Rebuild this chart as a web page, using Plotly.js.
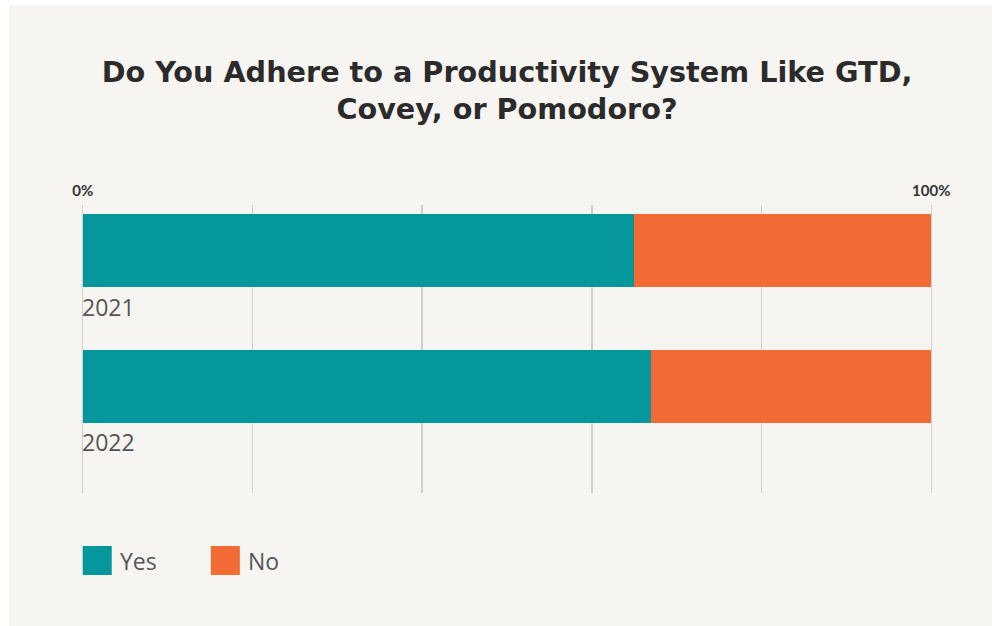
<!DOCTYPE html>
<html>
<head>
<meta charset="utf-8">
<script src="https://cdn.plot.ly/plotly-3.0.1.min.js"></script>
<style>
  html, body { margin: 0; padding: 0; background: #ffffff; width: 992px; height: 626px; overflow: hidden; }
  #chart { position: absolute; left: 9px; top: 5px; width: 983px; height: 621px; }
</style>
</head>
<body>
<div id="chart"></div>
<script>
// ---- data ----
const years = ['2021', '2022'];
const seriesNames = ['Yes', 'No'];
const yesValues = [65, 67];
const noValues = [35, 33];
const seriesColors = ['#05979b', '#f36b34'];
const tickValues = [0, 100];
const tickLabels = ['0%', '100%'];
const titleText = 'Do You Adhere to a Productivity System Like GTD,<br>Covey, or Pomodoro?';

const seriesValues = [yesValues, noValues];
const traces = seriesNames.map((name, i) => ({
  type: 'bar',
  orientation: 'h',
  name: name,
  y: years,
  x: seriesValues[i],
  marker: { color: seriesColors[i], line: { width: 0 } },
  width: 0.537,
  hoverinfo: 'x+name'
}));

const labelFont = { family: '"Open Sans", sans-serif', size: 23, color: '#555555' };

// year labels under bars (category index positions)
const annotations = years.map((yr, i) => ({
  x: 0, xref: 'x', y: i, yref: 'y',
  text: yr, showarrow: false,
  xanchor: 'left', yanchor: 'top', yshift: -38, xshift: -3,
  font: labelFont
}));

// custom legend (large squares)
const shapes = [];
const plotW = 851.4, plotH = 288;
const legendX = [0, 0.151];   // fraction of the 0-100 span
seriesNames.forEach((name, i) => {
  const x0 = (1.7 + legendX[i] * 848) / plotW;
  shapes.push({
    type: 'rect', xref: 'paper', yref: 'paper',
    x0: x0, x1: x0 + 29 / plotW,
    y0: -(546 - 493 + 29) / plotH, y1: -(546 - 493) / plotH,
    fillcolor: seriesColors[i], line: { width: 0 }
  });
  annotations.push({
    xref: 'paper', yref: 'paper',
    x: x0 + 35 / plotW, y: -(546 - 493 + 14.5) / plotH,
    text: name, showarrow: false,
    xanchor: 'left', yanchor: 'middle',
    font: labelFont
  });
});

const layout = {
  width: 983, height: 621,
  paper_bgcolor: '#f6f5f1',
  plot_bgcolor: 'rgba(0,0,0,0)',
  margin: { l: 72.3, r: 59.3, t: 200, b: 133 },
  barmode: 'stack',
  showlegend: false,
  title: {
    text: titleText,
    x: 0.5, xref: 'paper', xanchor: 'center',
    y: 0.876, yref: 'container', yanchor: 'top',
    font: { family: '"DejaVu Sans", sans-serif', size: 28.7, color: '#2b2b2b', weight: 700 }
  },
  xaxis: {
    side: 'top',
    range: [-0.2, 100.2],
    tickvals: tickValues,
    ticktext: tickLabels,
    ticks: '',
    ticklabelstandoff: 5,
    showline: false,
    zeroline: false,
    showgrid: true,
    gridcolor: '#cfcfcd',
    gridwidth: 1.5,
    tickfont: { family: 'Lato, sans-serif', size: 15, color: '#333333', weight: 700 },
    minor: { dtick: 20, tick0: 0, showgrid: true, gridcolor: '#cfcfcd', gridwidth: 1.5, ticks: '' },
    fixedrange: true
  },
  yaxis: {
    type: 'category',
    range: [1.7835, -0.3346],
    showticklabels: false,
    showgrid: false,
    zeroline: false,
    showline: false,
    ticks: '',
    fixedrange: true
  },
  annotations: annotations,
  shapes: shapes,
  font: { family: 'Lato, sans-serif' }
};

Plotly.newPlot('chart', traces, layout, { displayModeBar: false, staticPlot: true });
</script>
</body>
</html>
